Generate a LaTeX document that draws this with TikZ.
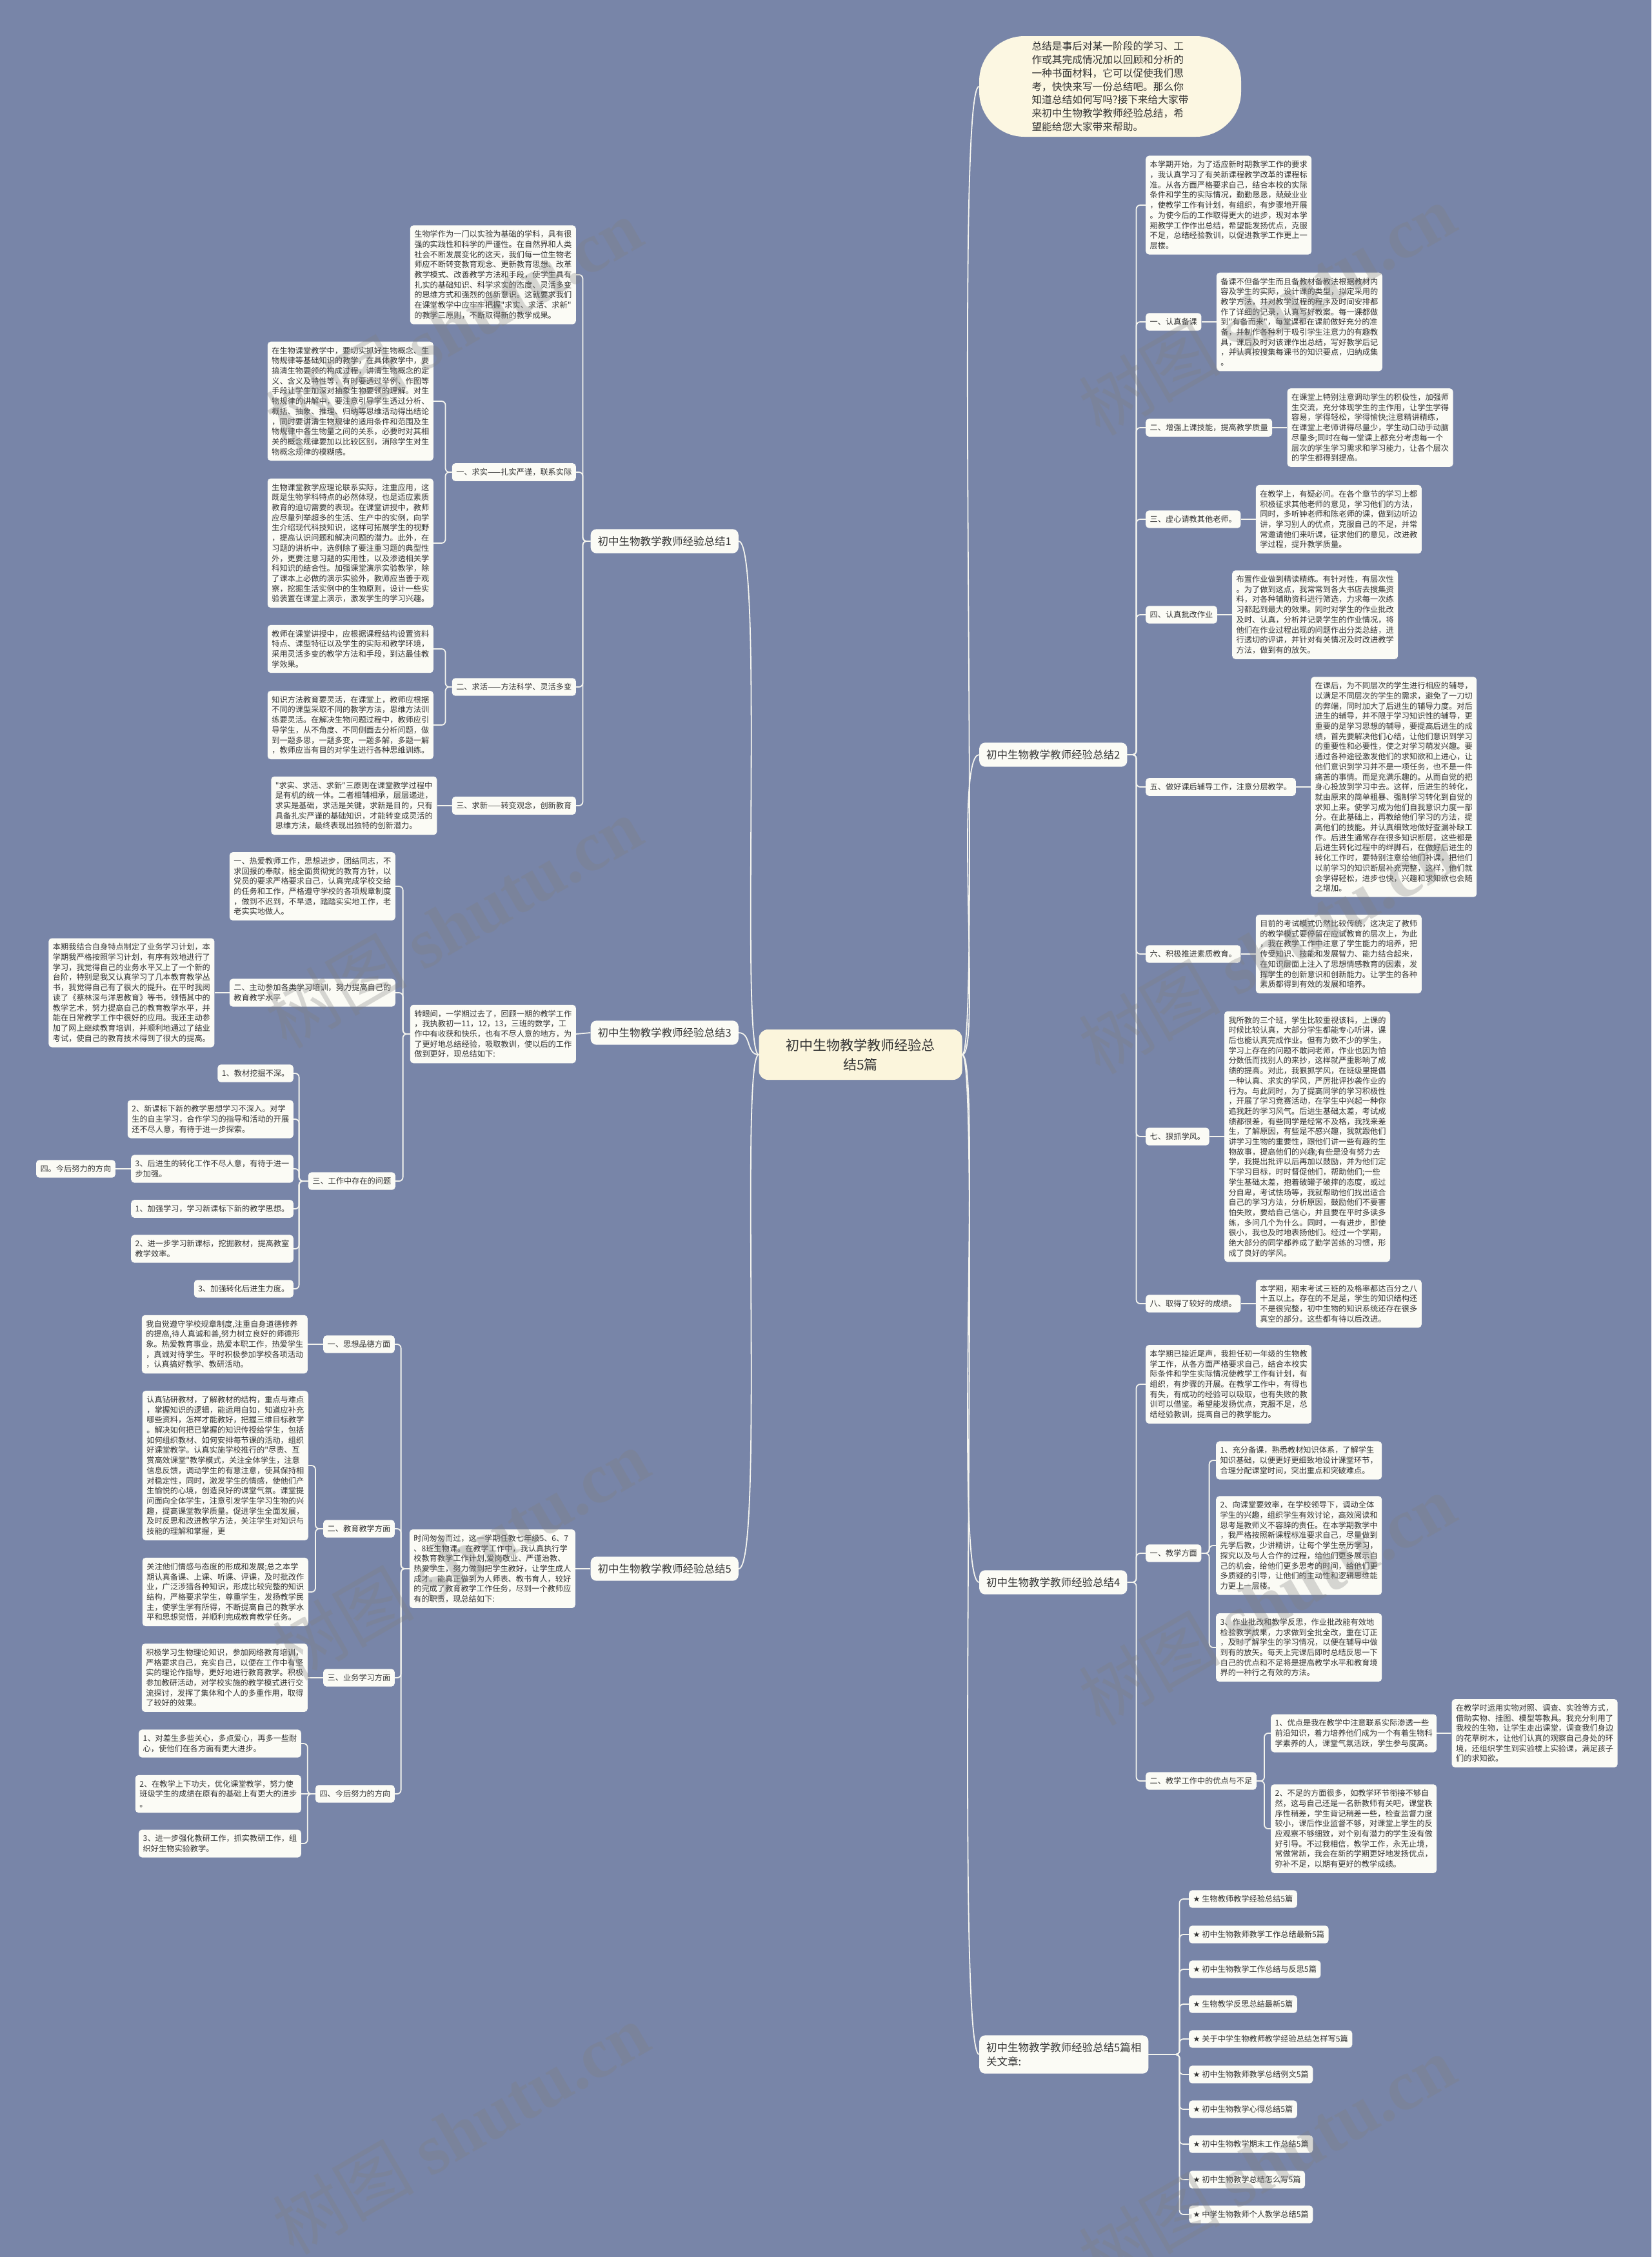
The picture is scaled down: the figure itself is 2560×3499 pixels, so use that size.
\documentclass[tikz,border=0pt]{standalone}
\usepackage{fontspec}
\newfontfamily\cjk{Noto Sans CJK SC}
\newfontfamily\symfont{DejaVu Sans}
\newfontfamily\markfont{Liberation Serif}
\usetikzlibrary{positioning}
\definecolor{bgblue}{HTML}{7885A8}
\definecolor{cardfill}{HTML}{FBFBF5}
\definecolor{rootfill}{HTML}{FBF5DC}
\definecolor{bubblefill}{HTML}{FCF7E2}
\definecolor{inkgray}{HTML}{333333}
\definecolor{linkwhite}{HTML}{F4F4EE}
\newcommand{\cardfont}{\cjk\fontsize{12.2}{15.7}\selectfont}
\newcommand{\branchfont}{\cjk\fontsize{16.5}{22}\selectfont}
\newcommand{\rootfont}{\cjk\fontsize{21}{30}\selectfont}
\newcommand{\introfont}{\cjk\fontsize{15.7}{20.9}\selectfont}
\tikzset{
  card/.style={fill=cardfill, rounded corners=5pt, align=left, inner xsep=6.5pt, inner ysep=8pt, font=\cardfont, text=inkgray},
  branchtag/.style={fill=cardfill, rounded corners=9pt, align=left, inner xsep=11pt, inner ysep=11pt, font=\branchfont, text=inkgray},
  rootbox/.style={fill=rootfill, rounded corners=14pt, align=center, minimum width=315pt, minimum height=78pt, font=\rootfont, text=inkgray},
  introbubble/.style={fill=bubblefill, rounded corners=70pt, align=left, minimum width=406pt, minimum height=156pt, font=\introfont, text=inkgray},
  link/.style={draw=linkwhite, line width=1.8pt, rounded corners=6pt},
  watermark/.style={rotate=30, text=gray, opacity=0.3, font=\cjk\fontsize{110}{110}\selectfont}
}
\begin{document}
\begin{tikzpicture}[x=1pt,y=-1pt]
\fill[bgblue] (0,0) rectangle (2560,3499);
\useasboundingbox (0,0) rectangle (2560,3499);

\node[rootbox] (root) at (1334,1635) {初中生物教学教师经验总\\结5篇};
\node[introbubble] (intro) at (1721,134) {总结是事后对某一阶段的学习、工\\作或其完成情况加以回顾和分析的\\一种书面材料，它可以促使我们思\\考，快快来写一份总结吧。那么你\\知道总结如何写吗?接下来给大家带\\来初中生物教学教师经验总结，希\\望能给您大家带来帮助。};

\node[branchtag, anchor=east] (b1) at (1145,839) {初中生物教学教师经验总结1};
\node[branchtag, anchor=west] (b2) at (1518,1170) {初中生物教学教师经验总结2};
\node[branchtag, anchor=east] (b3) at (1145,1601) {初中生物教学教师经验总结3};
\node[branchtag, anchor=west] (b4) at (1518,2453) {初中生物教学教师经验总结4};
\node[branchtag, anchor=east] (b5) at (1145,2432) {初中生物教学教师经验总结5};
\node[branchtag, anchor=west] (b6) at (1518,3185) {初中生物教学教师经验总结5篇相\\关文章:};

% branch 1
\node[card, anchor=east] (b1i) at (893,426) {生物学作为一门以实验为基础的学科，具有很\\强的实践性和科学的严谨性。在自然界和人类\\社会不断发展变化的这天，我们每一位生物老\\师应不断转变教育观念、更新教育思想、改革\\教学模式、改善教学方法和手段，使学生具有\\扎实的基础知识、科学求实的态度、灵活多变\\的思维方式和强烈的创新意识。这就要求我们\\在课堂教学中应牢牢把握"求实、求活、求新"\\的教学三原则，不断取得新的教学成果。};
\node[card, anchor=east] (b1a) at (893,732) {一、求实——扎实严谨，联系实际};
\node[card, anchor=east] (b1a1) at (672,622) {在生物课堂教学中，要切实抓好生物概念、生\\物规律等基础知识的教学，在具体教学中，要\\搞清生物要领的构成过程，讲清生物概念的定\\义、含义及特性等，有时要透过举例、作图等\\手段让学生加深对抽象生物要领的理解。对生\\物规律的讲解中，要注意引导学生透过分析、\\概括、抽象、推理、归纳等思维活动得出结论\\，同时要讲清生物规律的适用条件和范围及生\\物规律中各生物量之间的关系，必要时对其相\\关的概念规律要加以比较区别，消除学生对生\\物概念规律的模糊感。};
\node[card, anchor=east] (b1a2) at (672,842) {生物课堂教学应理论联系实际，注重应用，这\\既是生物学科特点的必然体现，也是适应素质\\教育的迫切需要的表现。在课堂讲授中，教师\\应尽量列举超多的生活、生产中的实例，向学\\生介绍现代科技知识，这样可拓展学生的视野\\，提高认识问题和解决问题的潜力。此外，在\\习题的讲析中，选例除了要注重习题的典型性\\外，更要注意习题的实用性，以及渗透相关学\\科知识的结合性。加强课堂演示实验教学，除\\了课本上必做的演示实验外，教师应当善于观\\察，挖掘生活实例中的生物原则，设计一些实\\验装置在课堂上演示，激发学生的学习兴趣。};
\node[card, anchor=east] (b1b) at (893,1065) {二、求活——方法科学、灵活多变};
\node[card, anchor=east] (b1b1) at (672,1006) {教师在课堂讲授中，应根据课程结构设置资料\\特点、课型特征以及学生的实际和教学环境，\\采用灵活多变的教学方法和手段，到达最佳教\\学效果。};
\node[card, anchor=east] (b1b2) at (672,1124) {知识方法教育要灵活，在课堂上，教师应根据\\不同的课型采取不同的教学方法，思维方法训\\练要灵活。在解决生物问题过程中，教师应引\\导学生，从不角度、不同侧面去分析问题，做\\到一题多思，一题多变，一题多解，多题一解\\，教师应当有目的对学生进行各种思维训练。};
\node[card, anchor=east] (b1c) at (893,1249) {三、求新——转变观念，创新教育};
\node[card, left=23pt of b1c] (b1c1) {"求实、求活、求新"三原则在课堂教学过程中\\是有机的统一体。二者相辅相承，层层递进，\\求实是基础，求活是关键，求新是目的，只有\\具备扎实严谨的基础知识，才能转变成灵活的\\思维方法，最终表现出独特的创新潜力。};

% branch 2
\node[card, anchor=west] (b2i) at (1776,318) {本学期开始，为了适应新时期教学工作的要求\\，我认真学习了有关新课程教学改革的课程标\\准。从各方面严格要求自己，结合本校的实际\\条件和学生的实际情况，勤勤恳恳，兢兢业业\\，使教学工作有计划，有组织，有步骤地开展\\。为使今后的工作取得更大的进步，现对本学\\期教学工作作出总结，希望能发扬优点，克服\\不足，总结经验教训，以促进教学工作更上一\\层楼。};
\node[card, anchor=west] (b2a) at (1776,499) {一、认真备课};
\node[card, right=23pt of b2a] (b2a1) {备课不但备学生而且备教材备教法根据教材内\\容及学生的实际，设计课的类型，拟定采用的\\教学方法，并对教学过程的程序及时间安排都\\作了详细的记录，认真写好教案。每一课都做\\到"有备而来"，每堂课都在课前做好充分的准\\备，并制作各种利于吸引学生注意力的有趣教\\具，课后及时对该课作出总结，写好教学后记\\，并认真按搜集每课书的知识要点，归纳成集\\。};
\node[card, anchor=west] (b2b) at (1776,663) {二、增强上课技能，提高教学质量};
\node[card, right=23pt of b2b] (b2b1) {在课堂上特别注意调动学生的积极性，加强师\\生交流，充分体现学生的主作用，让学生学得\\容易，学得轻松，学得愉快;注意精讲精练，\\在课堂上老师讲得尽量少，学生动口动手动脑\\尽量多;同时在每一堂课上都充分考虑每一个\\层次的学生学习需求和学习能力，让各个层次\\的学生都得到提高。};
\node[card, anchor=west] (b2c) at (1776,805) {三、虚心请教其他老师。};
\node[card, right=23pt of b2c] (b2c1) {在教学上，有疑必问。在各个章节的学习上都\\积极征求其他老师的意见，学习他们的方法，\\同时，多听钟老师和陈老师的课，做到边听边\\讲，学习别人的优点，克服自己的不足，并常\\常邀请他们来听课，征求他们的意见，改进教\\学过程，提升教学质量。};
\node[card, anchor=west] (b2d) at (1776,953) {四、认真批改作业};
\node[card, right=23pt of b2d] (b2d1) {布置作业做到精读精练。有针对性，有层次性\\。为了做到这点，我常常到各大书店去搜集资\\料，对各种辅助资料进行筛选，力求每一次练\\习都起到最大的效果。同时对学生的作业批改\\及时、认真，分析并记录学生的作业情况，将\\他们在作业过程出现的问题作出分类总结，进\\行透切的评讲，并针对有关情况及时改进教学\\方法，做到有的放矢。};
\node[card, anchor=west] (b2e) at (1776,1220) {五、做好课后辅导工作，注意分层教学。};
\node[card, right=23pt of b2e] (b2e1) {在课后，为不同层次的学生进行相应的辅导，\\以满足不同层次的学生的需求，避免了一刀切\\的弊端，同时加大了后进生的辅导力度。对后\\进生的辅导，并不限于学习知识性的辅导，更\\重要的是学习思想的辅导，要提高后进生的成\\绩，首先要解决他们心结，让他们意识到学习\\的重要性和必要性，使之对学习萌发兴趣。要\\通过各种途径激发他们的求知欲和上进心，让\\他们意识到学习并不是一项任务，也不是一件\\痛苦的事情。而是充满乐趣的。从而自觉的把\\身心投放到学习中去。这样，后进生的转化，\\就由原来的简单粗暴、强制学习转化到自觉的\\求知上来。使学习成为他们自我意识力度一部\\分。在此基础上，再教给他们学习的方法，提\\高他们的技能。并认真细致地做好查漏补缺工\\作。后进生通常存在很多知识断层，这些都是\\后进生转化过程中的绊脚石，在做好后进生的\\转化工作时，要特别注意给他们补课，把他们\\以前学习的知识断层补充完整，这样，他们就\\会学得轻松，进步也快，兴趣和求知欲也会随\\之增加。};
\node[card, anchor=west] (b2f) at (1776,1479) {六、积极推进素质教育。};
\node[card, right=23pt of b2f] (b2f1) {目前的考试模式仍然比较传统，这决定了教师\\的教学模式要停留在应试教育的层次上，为此\\，我在教学工作中注意了学生能力的培养，把\\传受知识、技能和发展智力、能力结合起来，\\在知识层面上注入了思想情感教育的因素，发\\挥学生的创新意识和创新能力。让学生的各种\\素质都得到有效的发展和培养。};
\node[card, anchor=west] (b2g) at (1776,1762) {七、狠抓学风。};
\node[card, right=23pt of b2g] (b2g1) {我所教的三个班，学生比较重视该科，上课的\\时候比较认真，大部分学生都能专心听讲，课\\后也能认真完成作业。但有为数不少的学生，\\学习上存在的问题不敢问老师，作业也因为怕\\分数低而找别人的来抄，这样就严重影响了成\\绩的提高。对此，我狠抓学风，在班级里提倡\\一种认真、求实的学风，严厉批评抄袭作业的\\行为。与此同时，为了提高同学的学习积极性\\，开展了学习竞赛活动，在学生中兴起一种你\\追我赶的学习风气。后进生基础太差，考试成\\绩都很差，有些同学是经常不及格，我找来差\\生，了解原因，有些是不感兴趣，我就跟他们\\讲学习生物的重要性，跟他们讲一些有趣的生\\物故事，提高他们的兴趣;有些是没有努力去\\学，我提出批评以后再加以鼓励，并为他们定\\下学习目标，时时督促他们，帮助他们;一些\\学生基础太差，抱着破罐子破摔的态度，或过\\分自卑，考试怯场等，我就帮助他们找出适合\\自己的学习方法，分析原因，鼓励他们不要害\\怕失败，要给自己信心，并且要在平时多读多\\练，多问几个为什么。同时，一有进步，即使\\很小，我也及时地表扬他们。经过一个学期，\\绝大部分的同学都养成了勤学苦练的习惯，形\\成了良好的学风。};
\node[card, anchor=west] (b2h) at (1776,2021) {八、取得了较好的成绩。};
\node[card, right=23pt of b2h] (b2h1) {本学期，期末考试三班的及格率都达百分之八\\十五以上。存在的不足是，学生的知识结构还\\不是很完整，初中生物的知识系统还存在很多\\真空的部分。这些都有待以后改进。};

% branch 3
\node[card, anchor=east] (b3i) at (893,1603) {转眼间，一学期过去了，回顾一期的教学工作\\，我执教初一11，12，13，三班的数学，工\\作中有收获和快乐，也有不尽人意的地方，为\\了更好地总结经验，吸取教训，使以后的工作\\做到更好，现总结如下:};
\node[card, anchor=east] (b3a) at (613,1374) {一、热爱教师工作，思想进步，团结同志，不\\求回报的奉献，能全面贯彻党的教育方针，以\\党员的要求严格要求自己，认真完成学校交给\\的任务和工作，严格遵守学校的各项规章制度\\，做到不迟到，不早退，踏踏实实地工作，老\\老实实地做人。};
\node[card, anchor=east] (b3b) at (613,1539) {二、主动参加各类学习培训，努力提高自己的\\教育教学水平};
\node[card, left=23pt of b3b] (b3b1) {本期我结合自身特点制定了业务学习计划，本\\学期我严格按照学习计划，有序有效地进行了\\学习，我觉得自己的业务水平又上了一个新的\\台阶，特别是我又认真学习了几本教育教学丛\\书，我觉得自己有了很大的提升。在平时我阅\\读了《蔡林深与洋思教育》等书，领悟其中的\\教学艺术，努力提高自己的教育教学水平，并\\能在日常教学工作中很好的应用。我还主动参\\加了网上继续教育培训，并顺利地通过了结业\\考试，使自己的教育技术得到了很大的提高。};
\node[card, anchor=east] (b3c) at (613,1831) {三、工作中存在的问题};
\node[card, anchor=east] (b3c1) at (455,1664) {1、教材挖掘不深。};
\node[card, anchor=east] (b3c2) at (455,1735) {2、新课标下新的教学思想学习不深入。对学\\生的自主学习，合作学习的指导和活动的开展\\还不尽人意，有待于进一步探索。};
\node[card, anchor=east] (b3c3) at (455,1812) {3、后进生的转化工作不尽人意，有待于进一\\步加强。};
\node[card, left=24pt of b3c3] (b3c3a) {四。今后努力的方向};
\node[card, anchor=east] (b3c4) at (455,1874) {1、加强学习，学习新课标下新的教学思想。};
\node[card, anchor=east] (b3c5) at (455,1936) {2、进一步学习新课标，挖掘教材，提高教室\\教学效率。};
\node[card, anchor=east] (b3c6) at (455,1998) {3、加强转化后进生力度。};

% branch 4
\node[card, anchor=west] (b4i) at (1776,2146) {本学期已接近尾声，我担任初一年级的生物教\\学工作，从各方面严格要求自己，结合本校实\\际条件和学生实际情况使教学工作有计划，有\\组织，有步骤的开展。在教学工作中，有得也\\有失，有成功的经验可以吸取，也有失败的教\\训可以借鉴。希望能发扬优点，克服不足，总\\结经验教训，提高自己的教学能力。};
\node[card, anchor=west] (b4a) at (1776,2408) {一、教学方面};
\node[card, anchor=west] (b4a1) at (1885,2264) {1、充分备课，熟悉教材知识体系，了解学生\\知识基础，以便更好更细致地设计课堂环节，\\合理分配课堂时间，突出重点和突破难点。};
\node[card, anchor=west] (b4a2) at (1885,2396) {2、向课堂要效率，在学校领导下，调动全体\\学生的兴趣，组织学生有效讨论，高效阅读和\\思考是教师义不容辞的责任。在本学期教学中\\，我严格按照新课程标准要求自己，尽量做到\\先学后教，少讲精讲，让每个学生亲历学习，\\探究以及与人合作的过程，给他们更多展示自\\己的机会，给他们更多思考的时间，给他们更\\多质疑的引导，让他们的主动性和逻辑思维能\\力更上一层楼。};
\node[card, anchor=west] (b4a3) at (1885,2554) {3、作业批改和教学反思，作业批改能有效地\\检验教学成果，力求做到全批全改，重在订正\\，及时了解学生的学习情况，以便在辅导中做\\到有的放矢。每天上完课后即时总结反思一下\\自己的优点和不足将是提高教学水平和教育境\\界的一种行之有效的方法。};
\node[card, anchor=west] (b4b) at (1776,2761) {二、教学工作中的优点与不足};
\node[card, anchor=west] (b4b1) at (1970,2687) {1、优点是我在教学中注意联系实际渗透一些\\前沿知识，着力培养他们成为一个有着生物科\\学素养的人，课堂气氛活跃，学生参与度高。};
\node[card, right=23pt of b4b1] (b4b1a) {在教学时运用实物对照、调查、实验等方式，\\借助实物、挂图、模型等教具。我充分利用了\\我校的生物，让学生走出课堂，调查我们身边\\的花草树木，让他们认真的观察自己身处的环\\境，还组织学生到实验楼上实验课，满足孩子\\们的求知欲。};
\node[card, anchor=west] (b4b2) at (1970,2835) {2、不足的方面很多，如教学环节衔接不够自\\然，这与自己还是一名新教师有关吧，课堂秩\\序性稍差，学生背记稍差一些，检查监督力度\\较小，课后作业监督不够，对课堂上学生的反\\应观察不够细致，对个别有潜力的学生没有做\\好引导。不过我相信，教学工作，永无止境，\\常做常新，我会在新的学期更好地发扬优点，\\弥补不足，以期有更好的教学成绩。};

% branch 5
\node[card, anchor=east] (b5i) at (892,2432) {时间匆匆而过，这一学期任教七年级5、6、7\\、8班生物课。在教学工作中，我认真执行学\\校教育教学工作计划,爱岗敬业、严谨治教、\\热爱学生，努力做到把学生教好，让学生成人\\成才。能真正做到为人师表、教书育人，较好\\的完成了教育教学工作任务，尽到一个教师应\\有的职责，现总结如下:};
\node[card, anchor=east] (b5a) at (612,2084) {一、思想品德方面};
\node[card, left=24pt of b5a] (b5a1) {我自觉遵守学校规章制度,注重自身道德修养\\的提高,待人真诚和善,努力树立良好的师德形\\象。热爱教育事业，热爱本职工作，热爱学生\\，真诚对待学生。平时积极参加学校各项活动\\，认真搞好教学、教研活动。};
\node[card, anchor=east] (b5b) at (612,2370) {二、教育教学方面};
\node[card, anchor=east] (b5b1) at (478,2272) {认真钻研教材，了解教材的结构，重点与难点\\，掌握知识的逻辑，能运用自如，知道应补充\\哪些资料，怎样才能教好，把握三维目标教学\\。解决如何把已掌握的知识传授给学生，包括\\如何组织教材、如何安排每节课的活动，组织\\好课堂教学。认真实施学校推行的"尽责、互\\赏高效课堂"教学模式，关注全体学生，注意\\信息反馈，调动学生的有意注意，使其保持相\\对稳定性，同时，激发学生的情感，使他们产\\生愉悦的心境，创造良好的课堂气氛。课堂提\\问面向全体学生，注意引发学生学习生物的兴\\趣，提高课堂教学质量。促进学生全面发展，\\及时反思和改进教学方法，关注学生对知识与\\技能的理解和掌握，更};
\node[card, anchor=east] (b5b2) at (478,2468) {关注他们情感与态度的形成和发展;总之本学\\期认真备课、上课、听课、评课，及时批改作\\业，广泛涉猎各种知识，形成比较完整的知识\\结构，严格要求学生，尊重学生，发扬教学民\\主，使学生学有所得，不断提高自己的教学水\\平和思想觉悟，并顺利完成教育教学任务。};
\node[card, anchor=east] (b5c) at (612,2601) {三、业务学习方面};
\node[card, left=24pt of b5c] (b5c1) {积极学习生物理论知识，参加网络教育培训，\\严格要求自己，充实自己，以便在工作中有坚\\实的理论作指导，更好地进行教育教学。积极\\参加教研活动，对学校实施的教学模式进行交\\流探讨，发挥了集体和个人的多重作用，取得\\了较好的效果。};
\node[card, anchor=east] (b5d) at (612,2781) {四、今后努力的方向};
\node[card, anchor=east] (b5d1) at (467,2703) {1、对差生多些关心，多点爱心，再多一些耐\\心，使他们在各方面有更大进步。};
\node[card, anchor=east] (b5d2) at (467,2781) {2、在教学上下功夫，优化课堂教学，努力使\\班级学生的成绩在原有的基础上有更大的进步\\。};
\node[card, anchor=east] (b5d3) at (467,2858) {3、进一步强化教研工作，抓实教研工作，组\\织好生物实验教学。};

% related articles
\foreach \k/\ry/\rtext in {1/2944/生物教师教学经验总结5篇, 2/2999/初中生物教师教学工作总结最新5篇, 3/3053/初中生物教学工作总结与反思5篇, 4/3107/生物教学反思总结最新5篇, 5/3161/关于中学生物教师教学经验总结怎样写5篇, 6/3216/初中生物教师教学总结例文5篇, 7/3270/初中生物教学心得总结5篇, 8/3324/初中生物教学期末工作总结5篇, 9/3379/初中生物教学总结怎么写5篇, 10/3433/中学生物教师个人教学总结5篇}
  \node[card, anchor=west] (b6\k) at (1843,\ry) {{\symfont ★} \rtext};

% links from the root
\draw[link] (root.west) .. controls +(-30,0) and +(40,0) .. (b1.east);
\draw[link] (root.west) .. controls +(-20,0) and +(20,0) .. (b3.east);
\draw[link] (root.west) .. controls +(-30,0) and +(40,0) .. (b5.east);
\draw[link] (root.east) .. controls +(30,0) and +(-40,0) .. (intro.west);
\draw[link] (root.east) .. controls +(30,0) and +(-40,0) .. (b2.west);
\draw[link] (root.east) .. controls +(30,0) and +(-40,0) .. (b4.west);
\draw[link] (root.east) .. controls +(30,0) and +(-40,0) .. (b6.west);

% branch 1 links
\foreach \c in {b1i,b1a,b1b,b1c}
  \draw[link] (b1.west) -- ++(-12,0) |- (\c.east);
\foreach \c in {b1a1,b1a2}
  \draw[link] (b1a.west) -- ++(-10,0) |- (\c.east);
\foreach \c in {b1b1,b1b2}
  \draw[link] (b1b.west) -- ++(-10,0) |- (\c.east);
\draw[link] (b1c.west) -- (b1c1.east);

% branch 2 links
\foreach \c in {b2i,b2a,b2b,b2c,b2d,b2e,b2f,b2g,b2h}
  \draw[link] (b2.east) -- ++(14,0) |- (\c.west);
\foreach \p in {b2a,b2b,b2c,b2d,b2e,b2f,b2g,b2h}
  \draw[link] (\p.east) -- (\p1.west);

% branch 3 links
\draw[link] (b3.west) -- (b3i.east);
\foreach \c in {b3a,b3b,b3c}
  \draw[link] (b3i.west) -- ++(-11,0) |- (\c.east);
\draw[link] (b3b.west) -- (b3b1.east);
\foreach \c in {b3c1,b3c2,b3c3,b3c4,b3c5,b3c6}
  \draw[link] (b3c.west) -- ++(-14,0) |- (\c.east);
\draw[link] (b3c3.west) -- (b3c3a.east);

% branch 4 links
\foreach \c in {b4i,b4a,b4b}
  \draw[link] (b4.east) -- ++(14,0) |- (\c.west);
\foreach \c in {b4a1,b4a2,b4a3}
  \draw[link] (b4a.east) -- ++(12,0) |- (\c.west);
\foreach \c in {b4b1,b4b2}
  \draw[link] (b4b.east) -- ++(12,0) |- (\c.west);
\draw[link] (b4b1.east) -- (b4b1a.west);

% branch 5 links
\draw[link] (b5.west) -- (b5i.east);
\foreach \c in {b5a,b5b,b5c,b5d}
  \draw[link] (b5i.west) -- ++(-13,0) |- (\c.east);
\draw[link] (b5a.west) -- (b5a1.east);
\foreach \c in {b5b1,b5b2}
  \draw[link] (b5b.west) -- ++(-12,0) |- (\c.east);
\draw[link] (b5c.west) -- (b5c1.east);
\draw[link] (b5d.west) -- ++(-12,0) |- (b5d1.east);
\draw[link] (b5d.west) -- (b5d2.east);
\draw[link] (b5d.west) -- ++(-12,0) |- (b5d3.east);

% related links
\foreach \k in {1,...,10}
  \draw[link] (b6.east) -- ++(48,0) |- (b6\k.west);

% watermarks
\foreach \wx/\wy in {703/502, 1964/480, 703/1430, 1964/1470, 714/2410, 1964/2480, 714/3300, 1964/3350}
  \node[watermark] at (\wx,\wy) {树图 {\markfont\bfseries shutu.cn}};
\end{tikzpicture}
\end{document}
